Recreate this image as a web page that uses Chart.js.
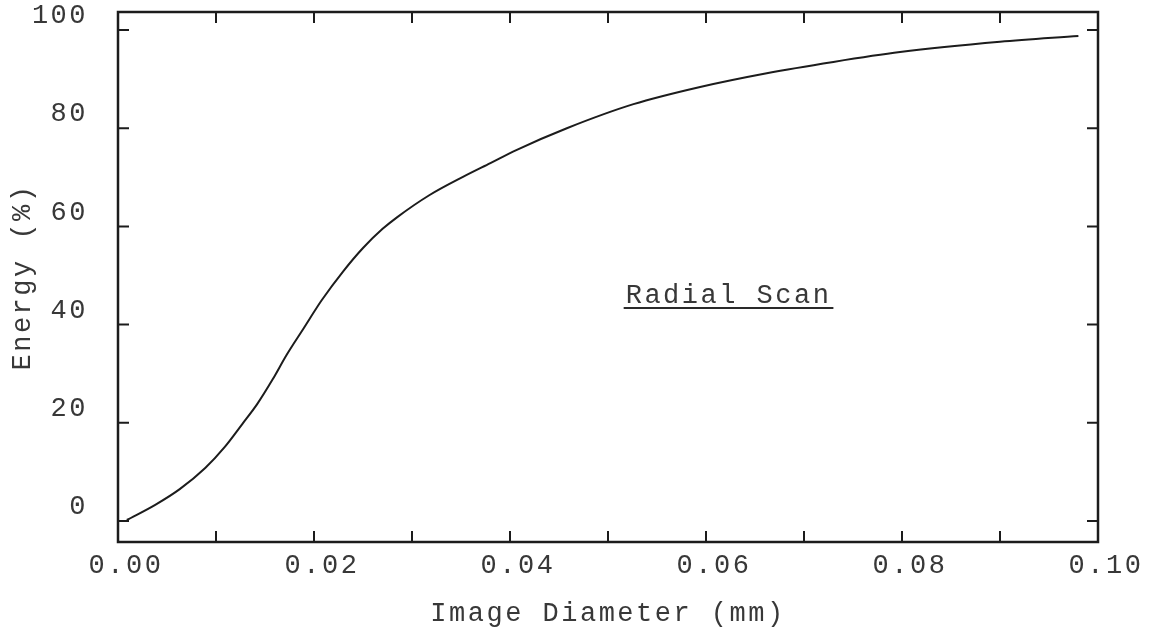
<!DOCTYPE html>
<html>
<head>
<meta charset="utf-8">
<script src="https://cdn.jsdelivr.net/npm/chart.js@4/dist/chart.umd.min.js"></script>
<style>
  html, body { margin: 0; padding: 0; background: #ffffff; }
  #graph-chart { width: 1154px; height: 636px; }
</style>
</head>
<body>
<div id="graph-chart"><canvas id="graph-chart-canvas"></canvas></div>
<script>
// curve: image diameter (mm) vs encircled energy (%)
const diameter = [0.0009, 0.0038, 0.0063, 0.0089, 0.0109, 0.0127, 0.0142, 0.0158, 0.0172, 0.0189,
  0.0208, 0.0230, 0.0250, 0.0270, 0.0285, 0.0318, 0.0352, 0.0380, 0.0407, 0.0458,
  0.0526, 0.0594, 0.0662, 0.0730, 0.0798, 0.0900, 0.0980]
const energy = [0.2, 3.3, 6.5, 10.8, 15.1, 19.8, 23.8, 28.9, 33.8, 39.1,
  45.0, 50.9, 55.6, 59.5, 61.9, 66.4, 70.1, 72.9, 75.6, 80.0,
  84.9, 88.4, 91.2, 93.5, 95.5, 97.6, 98.8]

const xTickLabels = ['0.00', '0.02', '0.04', '0.06', '0.08', '0.10']
const yTickLabels = ['0', '20', '40', '60', '80', '100']

const noteText = 'Radial Scan'
const notePos = [0.0623, 44.4]

const ink = '#1c1c1c'
const typeInk = '#383838'
const typeFont = "'Liberation Mono', 'DejaVu Sans Mono', monospace"

Chart.defaults.font.family = typeFont
Chart.defaults.font.size = 27
Chart.defaults.color = typeInk

// typewriter text is wider than the mono font, so spread the letters a bit
function spread(chart) {
    chart.ctx.letterSpacing = '2.5px'
}

// frame with inward ticks on all four sides, plus the underlined note
const framePlugin = {
    id: 'frame',
    beforeUpdate: spread,
    beforeDraw: spread,
    afterDraw(chart) {
        const {ctx, chartArea: a, scales: {x, y}} = chart
        const tick = 11
        ctx.save()
        ctx.strokeStyle = ink
        ctx.lineWidth = 2.5
        ctx.strokeRect(a.left, a.top, a.right - a.left, a.bottom - a.top)
        ctx.lineWidth = 2
        ctx.beginPath()
        x.ticks.forEach(t => {
            const px = x.getPixelForValue(t.value)
            ctx.moveTo(px, a.bottom); ctx.lineTo(px, a.bottom - tick)
            ctx.moveTo(px, a.top); ctx.lineTo(px, a.top + tick)
        })
        y.ticks.forEach(t => {
            const py = y.getPixelForValue(t.value)
            ctx.moveTo(a.left, py); ctx.lineTo(a.left + tick, py)
            ctx.moveTo(a.right, py); ctx.lineTo(a.right - tick, py)
        })
        ctx.stroke()

        // note label
        ctx.letterSpacing = '2.5px'
        ctx.font = `27px ${typeFont}`
        ctx.fillStyle = typeInk
        ctx.textAlign = 'center'
        ctx.textBaseline = 'alphabetic'
        const nx = x.getPixelForValue(notePos[0])
        const ny = y.getPixelForValue(notePos[1])
        ctx.fillText(noteText, nx, ny)
        const w = ctx.measureText(noteText).width
        ctx.strokeStyle = '#2a2a2a'
        ctx.lineWidth = 2
        ctx.beginPath()
        ctx.moveTo(nx - w / 2 - 2, ny + 5)
        ctx.lineTo(nx + w / 2 + 2, ny + 5)
        ctx.stroke()
        ctx.restore()
    }
}

new Chart(document.getElementById('graph-chart-canvas'), {
    type: 'line',
    data: {
        datasets: [{
            data: diameter.map((d, i) => ({x: d, y: energy[i]})),
            borderColor: ink,
            borderWidth: 2,
            pointRadius: 0,
            cubicInterpolationMode: 'monotone',
            fill: false
        }]
    },
    options: {
        responsive: true,
        maintainAspectRatio: false,
        animation: false,
        layout: {padding: {left: 0, top: 12, right: 56, bottom: 0}},
        plugins: {legend: {display: false}, tooltip: {enabled: false}},
        scales: {
            x: {
                type: 'linear',
                min: 0,
                max: 0.1,
                grid: {display: false, drawTicks: false},
                border: {display: false},
                ticks: {
                    stepSize: 0.01,
                    includeBounds: false,
                    autoSkip: false,
                    maxRotation: 0,
                    padding: 8,
                    labelOffset: 8,
                    callback: v => {
                        const i = Math.round(v * 100)
                        return i % 2 === 0 ? xTickLabels[i / 2] : ''
                    }
                },
                title: {
                    display: true,
                    text: 'Image Diameter (mm)',
                    font: {size: 27},
                    padding: {top: 0, bottom: 6}
                },
                afterFit: s => {
                    s.height = 94
                    s.paddingLeft = 0
                    s.paddingRight = 0
                }
            },
            y: {
                min: -4.28,
                max: 103.67,
                grid: {display: false, drawTicks: false},
                border: {display: false},
                ticks: {
                    stepSize: 20,
                    includeBounds: false,
                    padding: 30,
                    labelOffset: -14,
                    callback: v => yTickLabels[Math.round(v / 20)]
                },
                title: {
                    display: true,
                    text: 'Energy (%)',
                    font: {size: 27},
                    padding: {top: 7, bottom: 0}
                },
                afterFit: s => {
                    s.width = 118
                    s.paddingTop = 0
                    s.paddingBottom = 0
                }
            }
        }
    },
    plugins: [framePlugin]
})
</script>
</body>
</html>
